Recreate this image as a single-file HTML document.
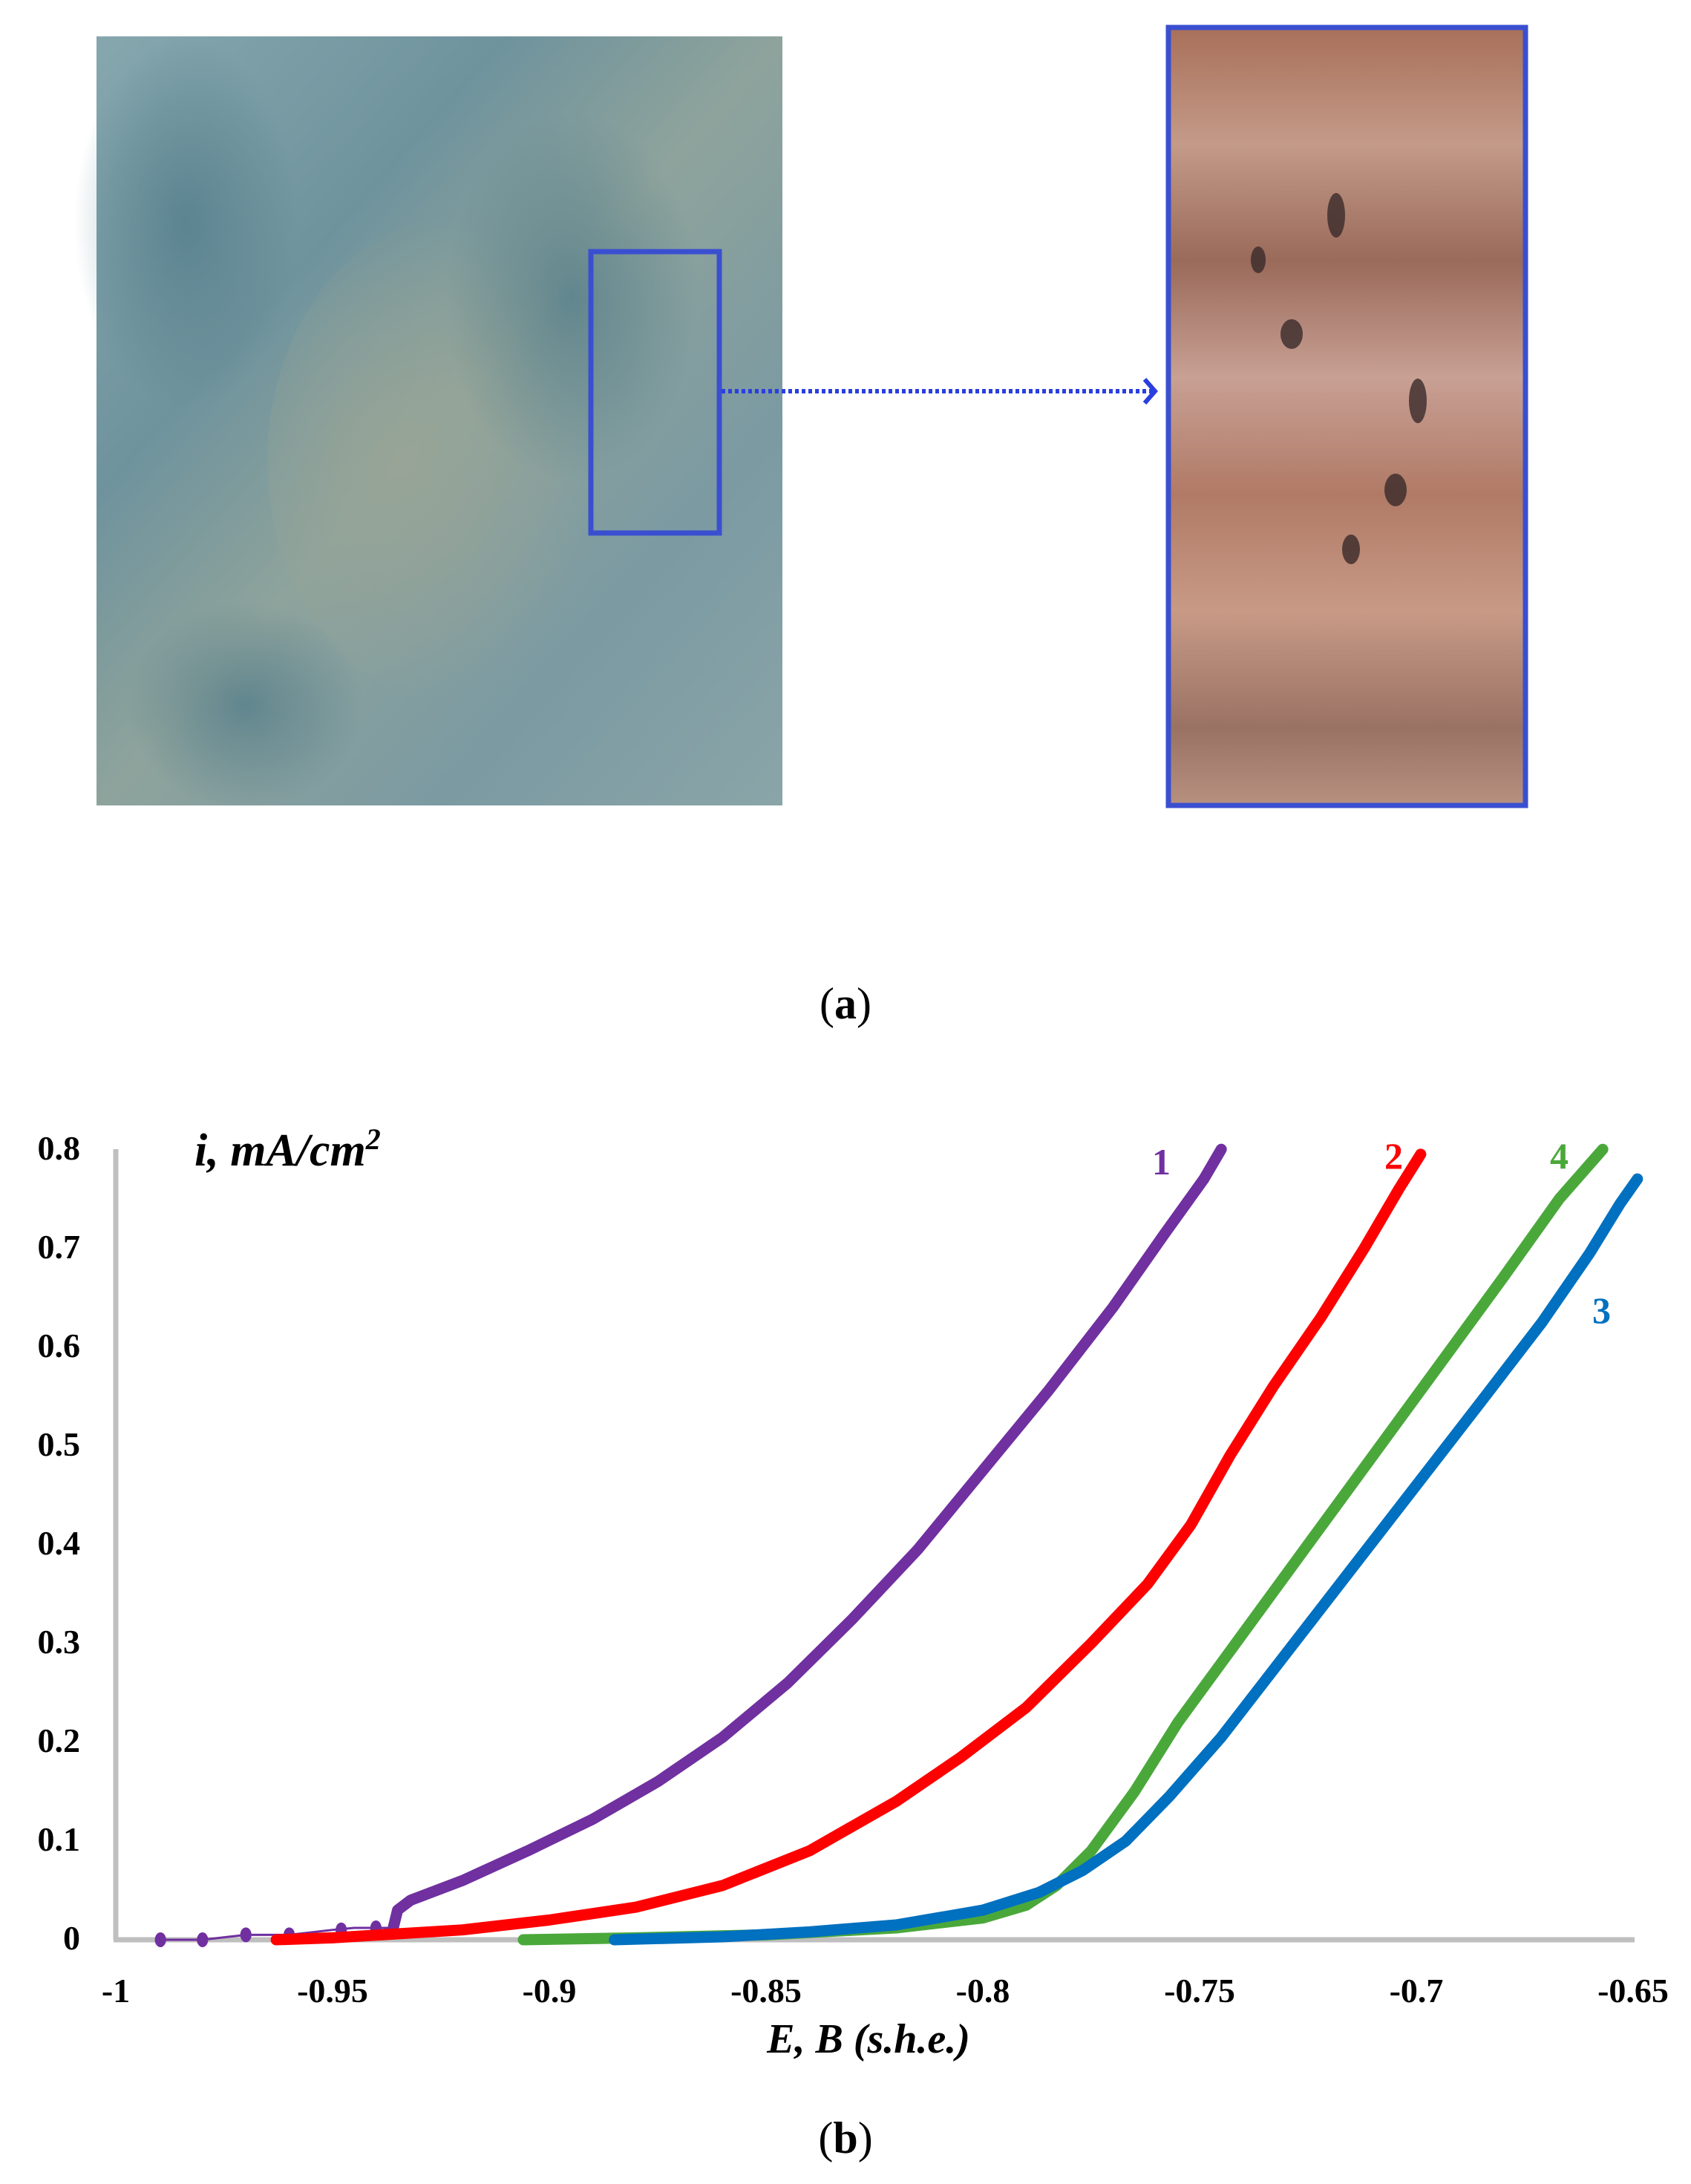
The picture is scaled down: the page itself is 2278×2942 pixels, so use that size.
<!DOCTYPE html>
<html><head><meta charset="utf-8"><style>
html,body{margin:0;padding:0;background:#fff;}
svg{display:block;}
text{font-family:"Liberation Serif",serif;}
</style></head><body>
<svg width="2278" height="2942" viewBox="0 0 2278 2942" xmlns="http://www.w3.org/2000/svg">
<defs>
<linearGradient id="lg1" x1="0" y1="0" x2="1" y2="1">
<stop offset="0" stop-color="#86a7ae"/><stop offset="0.3" stop-color="#6f939d"/>
<stop offset="0.5" stop-color="#8ea39c"/><stop offset="0.75" stop-color="#7b9aa2"/>
<stop offset="1" stop-color="#8aa5a8"/></linearGradient>
<radialGradient id="rg1" cx="0.35" cy="0.5" r="0.5"><stop offset="0" stop-color="#9aa595" stop-opacity="0.8"/><stop offset="1" stop-color="#9aa595" stop-opacity="0"/></radialGradient>
<radialGradient id="rg2" cx="0.5" cy="0.5" r="0.5"><stop offset="0" stop-color="#4f7a88" stop-opacity="0.7"/><stop offset="1" stop-color="#4f7a88" stop-opacity="0"/></radialGradient>
<linearGradient id="lg2" x1="0" y1="0" x2="0" y2="1">
<stop offset="0" stop-color="#a8705a"/><stop offset="0.15" stop-color="#c49a88"/>
<stop offset="0.3" stop-color="#9a6a5a"/><stop offset="0.45" stop-color="#c8a094"/>
<stop offset="0.6" stop-color="#b07a66"/><stop offset="0.75" stop-color="#c89a86"/>
<stop offset="0.9" stop-color="#9a7264"/><stop offset="1" stop-color="#b89080"/></linearGradient>
</defs>
<rect x="130" y="49" width="924" height="1036" fill="url(#lg1)"/>
<ellipse cx="620" cy="620" rx="260" ry="330" fill="url(#rg1)"/>
<ellipse cx="770" cy="400" rx="170" ry="250" fill="url(#rg2)"/>
<ellipse cx="250" cy="300" rx="150" ry="250" fill="url(#rg2)"/>
<ellipse cx="330" cy="950" rx="160" ry="140" fill="url(#rg2)"/>
<rect x="796" y="339" width="173" height="379" fill="none" stroke="#3a4fd0" stroke-width="7"/>
<line x1="972" y1="527" x2="1552" y2="527" stroke="#2a3fe0" stroke-width="6" stroke-dasharray="5,4"/>
<polyline points="1542,511 1556,527 1542,543" fill="none" stroke="#2a3fe0" stroke-width="6"/>
<rect x="1574" y="37" width="481" height="1048" fill="url(#lg2)"/>
<g fill="#3a2a2a" opacity="0.8">
<ellipse cx="1800" cy="290" rx="12" ry="30"/><ellipse cx="1740" cy="450" rx="15" ry="20"/>
<ellipse cx="1695" cy="350" rx="10" ry="18"/><ellipse cx="1910" cy="540" rx="12" ry="30"/>
<ellipse cx="1880" cy="660" rx="15" ry="22"/><ellipse cx="1820" cy="740" rx="12" ry="20"/>
</g>
<rect x="1574" y="37" width="481" height="1048" fill="none" stroke="#3a4fd0" stroke-width="7"/>
<text x="1139" y="1372" font-size="60" text-anchor="middle">(<tspan font-weight="bold">a</tspan>)</text>
<line x1="156" y1="1548" x2="156" y2="2613" stroke="#bfbfbf" stroke-width="7"/>
<line x1="153" y1="2613" x2="2202" y2="2613" stroke="#bfbfbf" stroke-width="7"/>
<g font-size="46" font-weight="bold" text-anchor="end">
<text x="108" y="1562">0.8</text><text x="108" y="1695">0.7</text><text x="108" y="1828">0.6</text>
<text x="108" y="1961">0.5</text><text x="108" y="2094">0.4</text><text x="108" y="2227">0.3</text>
<text x="108" y="2360">0.2</text><text x="108" y="2493">0.1</text><text x="108" y="2626">0</text>
</g>
<g font-size="46" font-weight="bold" text-anchor="middle">
<text x="156" y="2697">-1</text><text x="448" y="2697">-0.95</text><text x="740" y="2697">-0.9</text>
<text x="1032" y="2697">-0.85</text><text x="1324" y="2697">-0.8</text><text x="1616" y="2697">-0.75</text>
<text x="1908" y="2697">-0.7</text><text x="2200" y="2697">-0.65</text>
</g>
<text x="262" y="1570" font-size="62" font-weight="bold" font-style="italic">i, mA/cm<tspan font-size="40" dy="-22">2</tspan></text>
<text x="1170" y="2765" font-size="56" font-weight="bold" font-style="italic" text-anchor="middle">E, B (s.h.e.)</text>
<text x="1139" y="2900" font-size="60" text-anchor="middle">(<tspan font-weight="bold">b</tspan>)</text>
<g transform="translate(5996,2613) scale(5840,-1331)" fill="none" stroke-linecap="round" stroke-linejoin="round">
<polyline vector-effect="non-scaling-stroke" stroke="#7030a0" stroke-width="3" points="-0.99,0 -0.98,0 -0.97,0.005 -0.96,0.005 -0.95,0.01 -0.945,0.012 -0.935,0.012"/>
<g fill="#7030a0" stroke="none">
<ellipse cx="-0.9897" cy="0" rx="0.0013" ry="0.0075"/><ellipse cx="-0.98" cy="0" rx="0.0013" ry="0.0075"/>
<ellipse cx="-0.97" cy="0.005" rx="0.0013" ry="0.0075"/><ellipse cx="-0.96" cy="0.005" rx="0.0013" ry="0.0075"/>
<ellipse cx="-0.948" cy="0.01" rx="0.0013" ry="0.0075"/><ellipse cx="-0.94" cy="0.012" rx="0.0013" ry="0.0075"/>
</g>
<polyline vector-effect="non-scaling-stroke" stroke="#7030a0" stroke-width="15" points="-0.936,0.012 -0.935,0.03 -0.932,0.04 -0.92,0.06 -0.905,0.09 -0.89,0.122 -0.875,0.16 -0.86,0.205 -0.845,0.26 -0.83,0.325 -0.815,0.395 -0.8,0.475 -0.785,0.555 -0.77,0.64 -0.758,0.715 -0.749,0.77 -0.745,0.8"/>
<polyline vector-effect="non-scaling-stroke" stroke="#ff0000" stroke-width="15" points="-0.963,0 -0.95,0.002 -0.935,0.006 -0.92,0.01 -0.9,0.02 -0.88,0.033 -0.86,0.055 -0.84,0.09 -0.82,0.14 -0.805,0.185 -0.79,0.235 -0.775,0.3 -0.762,0.36 -0.752,0.42 -0.743,0.49 -0.733,0.56 -0.722,0.63 -0.712,0.7 -0.704,0.76 -0.699,0.795"/>
<polyline vector-effect="non-scaling-stroke" stroke="#4aa83a" stroke-width="15" points="-0.906,0 -0.88,0.002 -0.85,0.005 -0.82,0.012 -0.8,0.022 -0.79,0.035 -0.783,0.055 -0.775,0.09 -0.765,0.15 -0.755,0.22 -0.74,0.31 -0.725,0.4 -0.71,0.49 -0.695,0.58 -0.68,0.67 -0.667,0.75 -0.657,0.8"/>
<polyline vector-effect="non-scaling-stroke" stroke="#0070c0" stroke-width="15" points="-0.885,0 -0.86,0.003 -0.84,0.008 -0.82,0.015 -0.8,0.03 -0.787,0.048 -0.777,0.07 -0.767,0.1 -0.757,0.145 -0.745,0.205 -0.73,0.29 -0.715,0.375 -0.7,0.46 -0.685,0.545 -0.671,0.625 -0.66,0.695 -0.653,0.745 -0.649,0.77"/>
</g>
<g font-size="50" font-weight="bold">
<text x="1552" y="1582" fill="#7030a0">1</text>
<text x="1865" y="1574" fill="#ff0000">2</text>
<text x="2088" y="1574" fill="#4aa83a">4</text>
<text x="2145" y="1782" fill="#0070c0">3</text>
</g>
</svg>
</body></html>
